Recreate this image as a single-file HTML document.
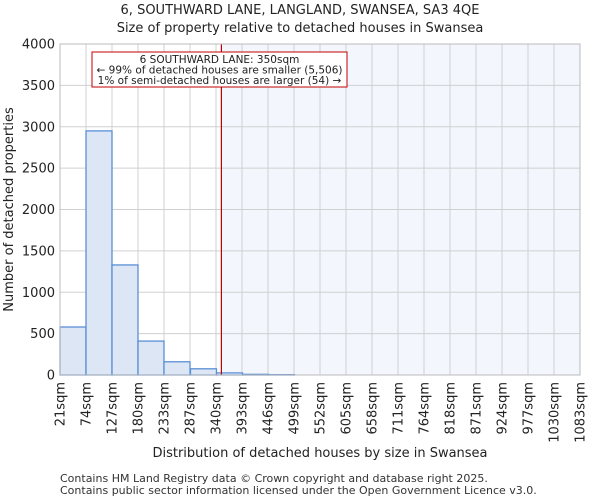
<!DOCTYPE html>
<html><head><meta charset="utf-8"><style>
body{margin:0;background:#fff;font-family:"DejaVu Sans","Liberation Sans",sans-serif}
</style></head><body>
<svg id="c" width="600" height="500" xmlns="http://www.w3.org/2000/svg" font-family="DejaVu Sans, Liberation Sans, sans-serif"></svg>
<script>
const binStarts=[21,74,127,180,233,287,340,393,446,499,552,605,658,711,764,818,871,924,977,1030];
const counts=[580,2950,1330,410,160,75,25,8,4,0,0,0,0,0,0,0,0,0,0,0];
const xTickLabels=["21sqm","74sqm","127sqm","180sqm","233sqm","287sqm","340sqm","393sqm","446sqm","499sqm","552sqm","605sqm","658sqm","711sqm","764sqm","818sqm","871sqm","924sqm","977sqm","1030sqm","1083sqm"];
const yTicks=[0,500,1000,1500,2000,2500,3000,3500,4000];
const propertySize=350;
const svg=document.getElementById('c');
const NS='http://www.w3.org/2000/svg';
const L=60,R=580,T=44,B=375,binW=53,xMin=21,nb=20;
const xs=v=>L+(v-xMin)/(binW*nb)*(R-L);
const ys=v=>B-v/4000*(B-T);
function el(t,a,txt){const e=document.createElementNS(NS,t);for(const k in a)e.setAttribute(k,a[k]);if(txt!=null)e.textContent=txt;svg.appendChild(e);return e;}
let e;
e=el('rect',{x:xs(propertySize),y:T,width:R-xs(propertySize),height:B-T,fill:'#f3f6fd'});


yTicks.forEach(v=>{e=el('line',{x1:L,x2:R,y1:ys(v),y2:ys(v),stroke:'#d0d0d0','stroke-width':1});

});
xTickLabels.forEach((s,i)=>{const x=L+i*(R-L)/nb;e=el('line',{x1:x,x2:x,y1:T,y2:B,stroke:'#d0d0d0','stroke-width':1});

});
counts.forEach((c,i)=>{const x0=xs(binStarts[i]),x1=xs(binStarts[i]+binW);
e=el('rect',{x:x0,y:ys(c),width:x1-x0,height:B-ys(c),fill:binStarts[i]>=340?'#eef2fb':'#dce6f4',stroke:'#5b8fd6','stroke-width':1.3});

});
e=el('line',{x1:xs(propertySize),x2:xs(propertySize),y1:T,y2:B,stroke:'#c00000','stroke-width':1.2});


e=el('rect',{x:L,y:T,width:R-L,height:B-T,fill:'none',stroke:'#bbb'});


yTicks.forEach(v=>{e=el('text',{x:L-5,y:ys(v)+4.5,'text-anchor':'end','font-size':13,fill:'#222'},String(v));

});
xTickLabels.forEach((s,i)=>{const x=L+i*(R-L)/nb;e=el('text',{transform:`translate(${x+4.5},${B+7}) rotate(-90)`,'text-anchor':'end','font-size':13,fill:'#222'},s);

});
e=el('rect',{x:92,y:52,width:255,height:35,fill:'#fff',stroke:'#c00000','stroke-width':1});


[["6 SOUTHWARD LANE: 350sqm",63],["← 99% of detached houses are smaller (5,506)",73.5],["1% of semi-detached houses are larger (54) →",84]].forEach(a=>{e=el('text',{x:219.5,y:a[1],'text-anchor':'middle','font-size':10.5,fill:'#222'},a[0]);

});
e=el('text',{x:300,y:14,'text-anchor':'middle','font-size':13,fill:'#222'},"6, SOUTHWARD LANE, LANGLAND, SWANSEA, SA3 4QE");


e=el('text',{x:300,y:32,'text-anchor':'middle','font-size':13,fill:'#222'},"Size of property relative to detached houses in Swansea");


e=el('text',{x:320,y:457,'text-anchor':'middle','font-size':13,fill:'#222'},"Distribution of detached houses by size in Swansea");


e=el('text',{transform:`translate(13,${(T+B)/2}) rotate(-90)`,'text-anchor':'middle','font-size':13,fill:'#222'},"Number of detached properties");


e=el('text',{x:60,y:482,'font-size':11,fill:'#333'},"Contains HM Land Registry data © Crown copyright and database right 2025.");


e=el('text',{x:60,y:494,'font-size':11,fill:'#333'},"Contains public sector information licensed under the Open Government Licence v3.0.");


</script>
</body></html>
